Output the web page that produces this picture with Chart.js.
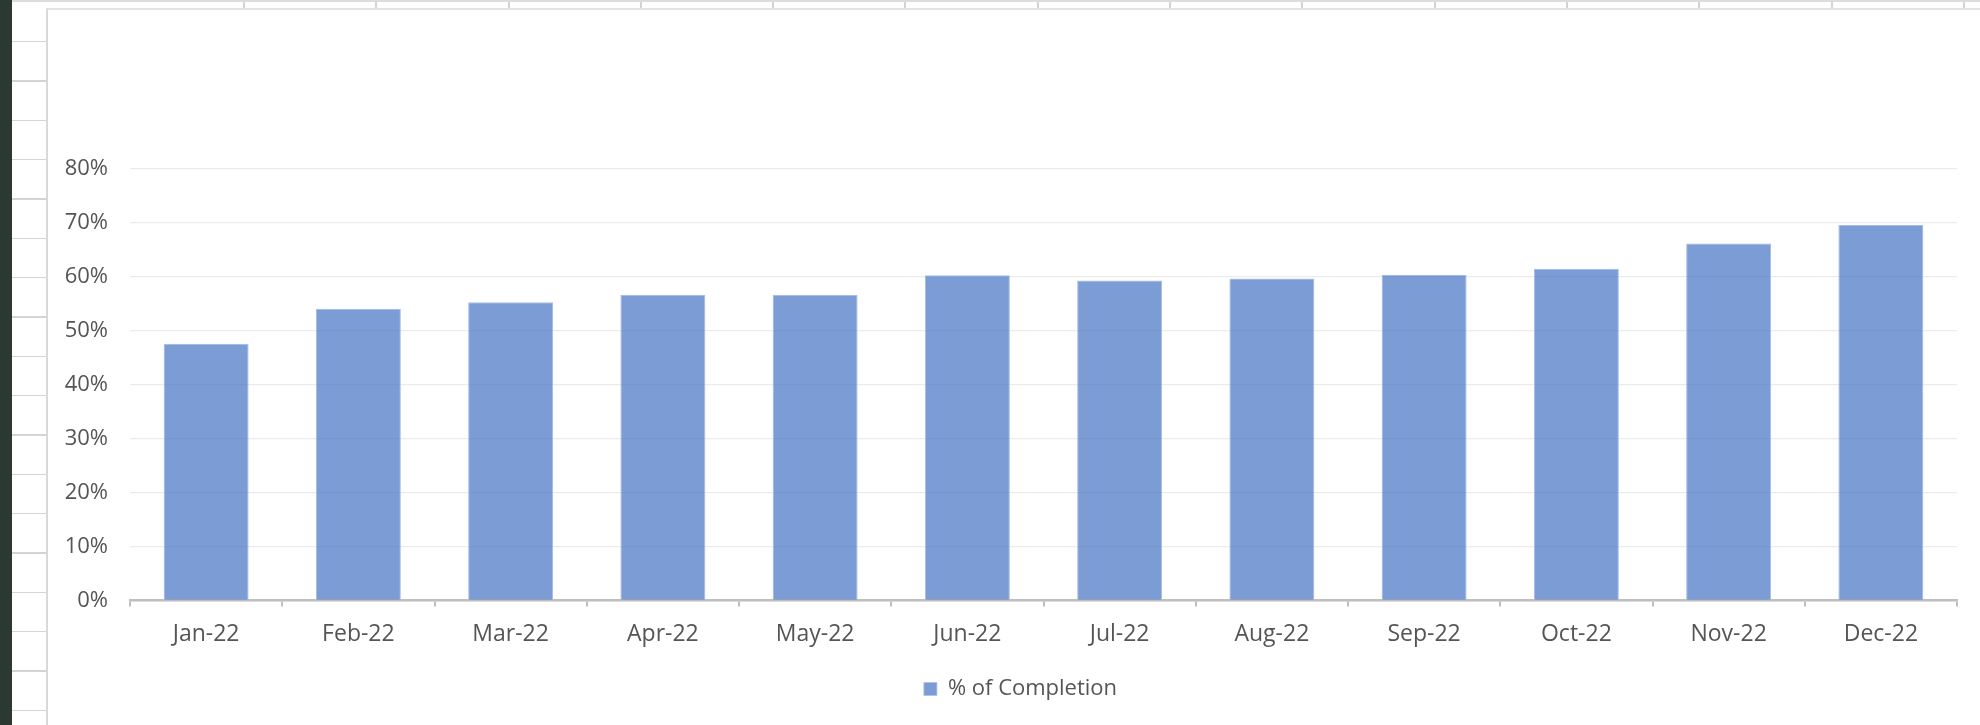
<!DOCTYPE html>
<html>
<head>
<meta charset="utf-8">
<title>% of Completion</title>
<script src="https://cdn.jsdelivr.net/npm/chart.js@4.4.0/dist/chart.umd.min.js"></script>
<style>
    html, body {
        margin: 0;
        padding: 0;
        width: 1980px;
        height: 725px;
        overflow: hidden;
        background: #ffffff;
    }

    /* the spreadsheet behind the chart */
    .strip {
        position: absolute;
        left: 0;
        top: 0;
        width: 12px;
        height: 725px;
        background: #2a3932;
    }
    .rows {
        position: absolute;
        left: 12px;
        top: 3px;
        width: 34px;
        height: 722px;
        background: repeating-linear-gradient(180deg, transparent 0 38px, #d4d4d4 38px 39.33px);
    }
    .top-row {
        position: absolute;
        left: 12px;
        top: 0;
        width: 1968px;
        height: 8px;
        border-top: 2px solid #dcdcdc;
        box-sizing: border-box;
    }
    .top-row::before {
        content: "";
        position: absolute;
        left: 231px;
        top: 0;
        right: 0;
        bottom: 0;
        background: repeating-linear-gradient(90deg, #d4d4d4 0 2px, transparent 2px 132.3px);
    }

    .chart-box {
        position: absolute;
        left: 46px;
        top: 8px;
        width: 1960px;
        height: 760px;
        border-left: 2px solid #d9d9d9;
        border-top: 2px solid #e3e3e3;
        background: #ffffff;
    }
    .chart-wrap {
        position: absolute;
        left: 0;
        top: 0;
        width: 1946px;
        height: 740px;
    }
</style>
</head>
<body>
<div class="strip"></div>
<div class="rows"></div>
<div class="top-row"></div>
<div class="chart-box">
    <div class="chart-wrap">
        <canvas id="completion-chart"></canvas>
    </div>
</div>

<script>
    const months = ["Jan-22", "Feb-22", "Mar-22", "Apr-22", "May-22", "Jun-22",
        "Jul-22", "Aug-22", "Sep-22", "Oct-22", "Nov-22", "Dec-22"];
    const completion = [47.6, 54.1, 55.3, 56.7, 56.7, 60.3, 59.3, 59.7, 60.4, 61.5, 66.2, 69.6];
    const yTicks = [0, 10, 20, 30, 40, 50, 60, 70, 80];

    const textColor = "#555555";
    const fontFamily = "'Open Sans', 'Noto Sans', sans-serif";

    const chartElement = document.getElementById("completion-chart");

    // the legend sits a bit right of the canvas centre in the original
    const legendShift = {
        id: "legendShift",
        afterLayout(chart) {
            chart.legend.left += 36;
        },
    };

    new Chart(chartElement, {
        type: "bar",
        data: {
            labels: months,
            datasets: [
                {
                    label: "% of Completion",
                    data: completion,
                    backgroundColor: "rgba(68, 114, 196, 0.7)",
                    borderColor: "#a8bde5",
                    borderWidth: {left: 1, right: 1, top: 1, bottom: 0},
                    categoryPercentage: 1,
                    barPercentage: 0.558,
                },
            ],
        },
        options: {
            responsive: true,
            maintainAspectRatio: false,
            animation: false,
            layout: {
                padding: {top: 159, right: 37, bottom: 40, left: 0},
            },
            scales: {
                x: {
                    offset: true,
                    grid: {
                        offset: true,
                        drawOnChartArea: false,
                        drawTicks: true,
                        tickLength: 6,
                        color: "#bfbfbf",
                        lineWidth: 2,
                    },
                    border: {
                        display: true,
                        color: "#bfbfbf",
                        width: 2.5,
                    },
                    ticks: {
                        color: textColor,
                        padding: 14,
                        maxRotation: 0,
                        font: {family: fontFamily, size: 23},
                    },
                },
                y: {
                    min: 0,
                    max: 80,
                    afterFit: (scale) => {
                        scale.width = 82;
                    },
                    afterBuildTicks: (scale) => {
                        scale.ticks = yTicks.map(value => ({value: value}));
                    },
                    grid: {
                        color: "#ebebeb",
                        lineWidth: 1.3,
                        drawTicks: false,
                    },
                    border: {
                        display: false,
                    },
                    ticks: {
                        color: textColor,
                        padding: 22,
                        font: {family: fontFamily, size: 22},
                        callback: (value) => value + "%",
                    },
                },
            },
            plugins: {
                legend: {
                    position: "bottom",
                    labels: {
                        color: textColor,
                        boxWidth: 13,
                        boxHeight: 13,
                        padding: 16,
                        font: {family: fontFamily, size: 22},
                    },
                },
                tooltip: {enabled: false},
            },
        },
        plugins: [legendShift],
    });
</script>
</body>
</html>
